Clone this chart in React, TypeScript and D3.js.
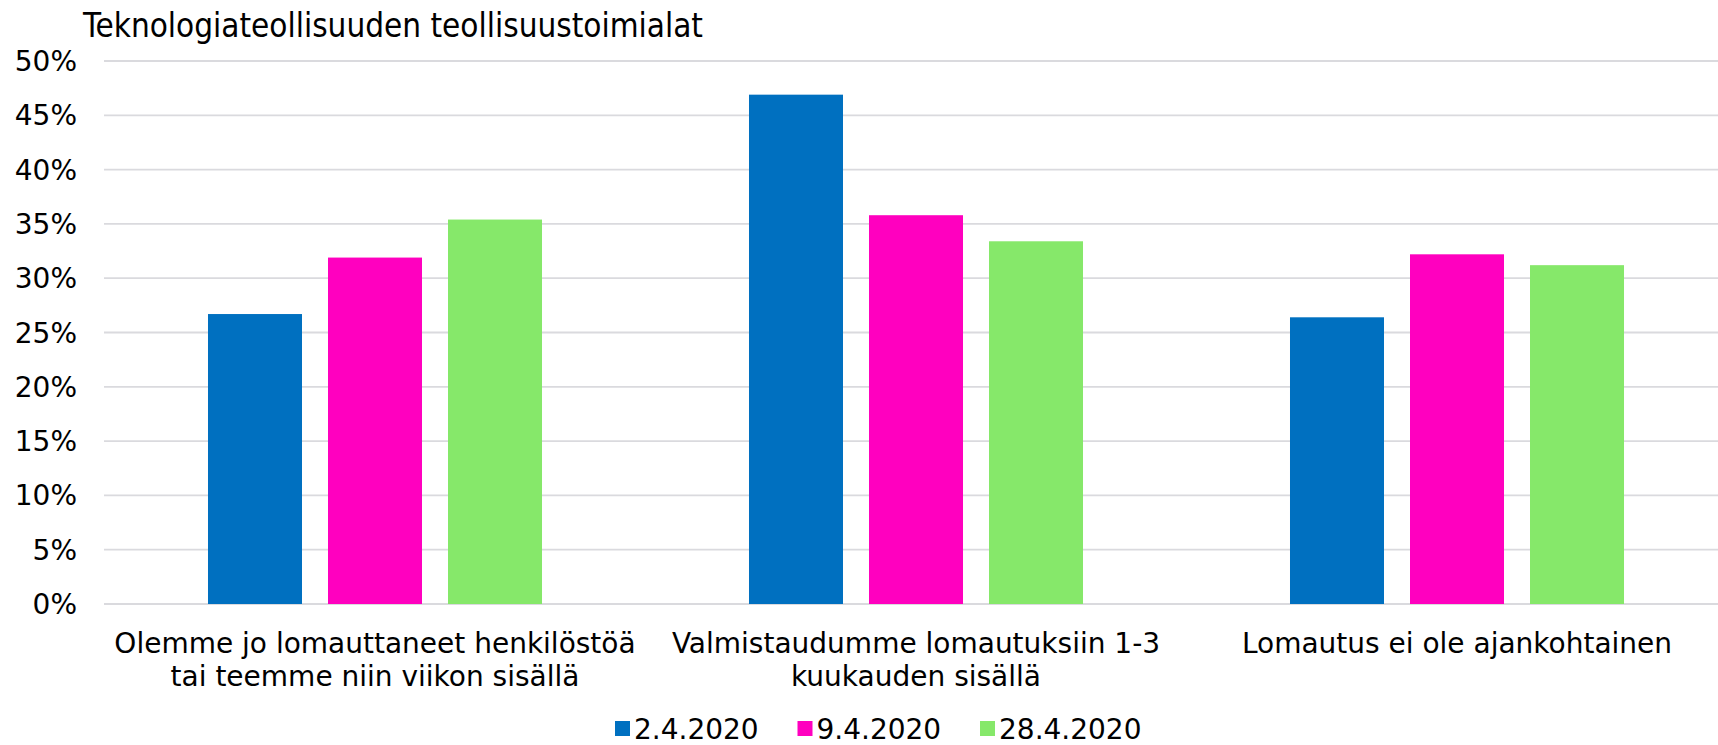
import React from "react";
import * as d3 from "d3";

const title = "Teknologiateollisuuden teollisuustoimialat";
const categories = [
  ["Olemme jo lomauttaneet henkilöstöä", "tai teemme niin viikon sisällä"],
  ["Valmistaudumme lomautuksiin 1-3", "kuukauden sisällä"],
  ["Lomautus ei ole ajankohtainen"],
];
const seriesNames = ["2.4.2020", "9.4.2020", "28.4.2020"];
const seriesColors = ["#0070c0", "#ff00bf", "#86e86a"];
const values_2_4 = [26.7, 46.9, 26.4];
const values_9_4 = [31.9, 35.8, 32.2];
const values_28_4 = [35.4, 33.4, 31.2];
const yTicks = [0, 5, 10, 15, 20, 25, 30, 35, 40, 45, 50];

const W = 1718;
const H = 745;
const FONT = "'DejaVu Sans', Verdana, sans-serif";

export default function App() {
  const series = [values_2_4, values_9_4, values_28_4];
  const catKeys = categories.map((_, i) => String(i));

  const x0 = d3
    .scaleBand<string>()
    .domain(catKeys)
    .range([104.5, 1727.5])
    .paddingInner(0.3826)
    .paddingOuter(0.1913);
  const x1 = d3
    .scaleBand<string>()
    .domain(seriesNames)
    .range([0, x0.bandwidth()])
    .paddingInner(0.2167)
    .paddingOuter(0);
  const y = d3.scaleLinear().domain([0, 50]).range([604, 61]);

  const legendStart = 615;
  const legendStep = 182.5;

  return (
    <svg
      width={W}
      height={H}
      style={{ position: "absolute", left: 0, top: 0, background: "#fff" }}
      fontFamily={FONT}
    >
      <rect x={0} y={0} width={W} height={H} fill="#fff" />
      <text
        x={83}
        y={37}
        fontSize={34}
        fill="#000"
        fontStretch="condensed"
        textLength={620}
        lengthAdjust="spacingAndGlyphs"
      >
        {title}
      </text>

      {yTicks.map((t) => (
        <g key={t}>
          <line
            x1={104}
            x2={W}
            y1={y(t)}
            y2={y(t)}
            stroke="#dadade"
            strokeWidth={1.8}
          />
          <text
            x={77}
            y={y(t)}
            dy="0.36em"
            textAnchor="end"
            fontSize={28}
            fill="#000"
          >
            {t + "%"}
          </text>
        </g>
      ))}

      {catKeys.map((c, ci) => (
        <g key={c} transform={`translate(${x0(c)},0)`}>
          {seriesNames.map((s, si) => {
            const v = series[si][ci];
            return (
              <rect
                key={s}
                x={x1(s)}
                y={y(v)}
                width={x1.bandwidth()}
                height={y(0) - y(v)}
                fill={seriesColors[si]}
              />
            );
          })}
        </g>
      ))}

      {catKeys.map((c, ci) => {
        const cx = (x0(c) as number) + x0.bandwidth() / 2;
        return (
          <text key={c} textAnchor="middle" fontSize={28} fill="#000">
            {categories[ci].map((line, li) => (
              <tspan key={li} x={cx} y={653 + li * 33}>
                {line}
              </tspan>
            ))}
          </text>
        );
      })}

      {seriesNames.map((s, si) => {
        const lx = legendStart + si * legendStep;
        return (
          <g key={s}>
            <rect x={lx} y={721} width={15} height={15} fill={seriesColors[si]} />
            <text x={lx + 19} y={738.5} fontSize={28} fill="#000">
              {s}
            </text>
          </g>
        );
      })}
    </svg>
  );
}
